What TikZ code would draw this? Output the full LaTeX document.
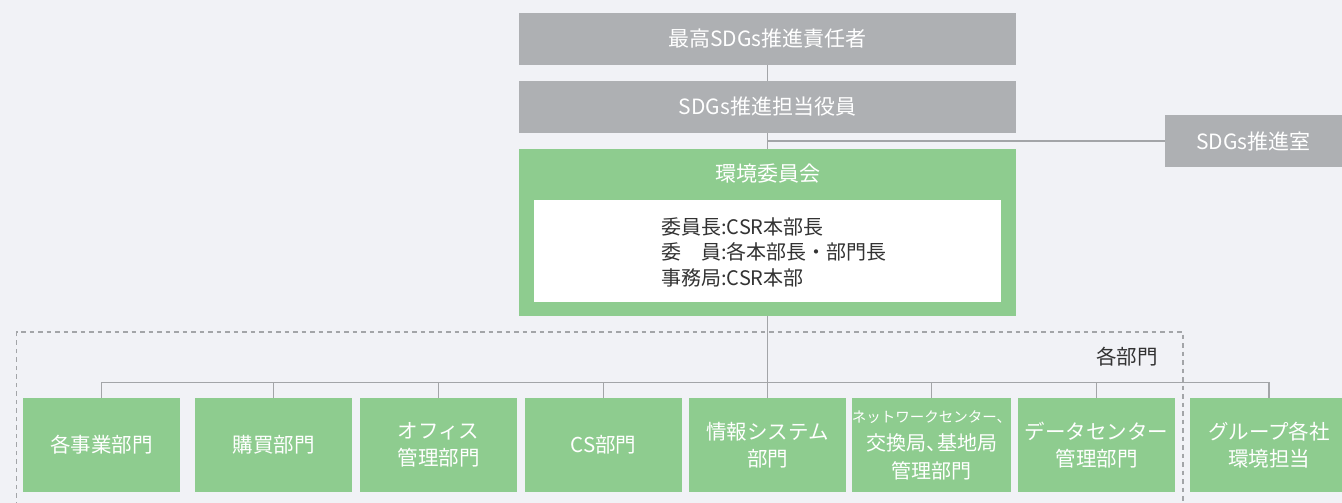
\documentclass[tikz,border=0pt]{standalone}
\usepackage{fontspec}
\setmainfont{Noto Sans CJK JP}
\definecolor{bg}{HTML}{F1F2F6}
\definecolor{boxgray}{HTML}{AEB0B3}
\definecolor{boxgreen}{HTML}{8ECC8F}
\definecolor{linegray}{HTML}{A3A5A8}
\definecolor{txtdark}{HTML}{333333}
\tikzset{
  graybox/.style={fill=boxgray, draw=none, minimum width=497pt, minimum height=52pt, inner sep=0pt, text=white, font=\fontsize{21}{26}\selectfont},
  deptbox/.style={fill=boxgreen, draw=none, minimum width=157pt, minimum height=94pt, inner sep=0pt, text=white, align=center, font=\fontsize{20.5}{27}\selectfont},
  conn/.style={draw=linegray, line width=1.3pt},
}
\begin{document}
\begin{tikzpicture}[x=1pt,y=-1pt]
\useasboundingbox (0,0) rectangle (1342,503);
\clip (0,0) rectangle (1342,503);
\fill[bg] (0,0) rectangle (1342,503);

% top chain
\node[graybox] (ceo) at (767.5,39) {最高SDGs推進責任者};
\node[graybox] (exec) at (767.5,107) {SDGs推進担当役員};
\node[graybox, minimum width=177pt] (office) at (1253.5,141) {SDGs推進室};
\node[fill=boxgreen, minimum width=497pt, minimum height=167pt, inner sep=0pt] (comm) at (767.5,232.5) {};
\node[text=white, font=\fontsize{21}{26}\selectfont] (commtitle) at (767.5,174) {環境委員会};
\node[fill=white, minimum width=467pt, minimum height=102pt, inner sep=0pt] (inner) at (767.5,251) {};
\node[anchor=west, align=left, text=txtdark, inner sep=0pt, font=\fontsize{20}{25.5}\selectfont] (members) at (661,252) {委員長:CSR本部長\\委\hspace{1em}員:各本部長・部門長\\事務局:CSR本部};

\draw[conn] (ceo.south) -- (exec.north);
\draw[conn] (exec.south) -- (comm.north);
\coordinate (branch) at (767.5,141);
\draw[conn] (branch) -- (office.west);

% dashed group
\draw[linegray, line width=1.1pt, dash pattern=on 4.5pt off 4pt] (16.5,540) -- (16.5,332) -- (1183,332) -- (1183,540);
\node[text=txtdark, font=\fontsize{20.5}{24}\selectfont] (grouplabel) at (1127,357) {各部門};

% departments
\node[deptbox] (d1) at (101.5,445) {各事業部門};
\node[deptbox] (d2) at (273.5,445) {購買部門};
\node[deptbox] (d3) at (438.5,445) {オフィス\\管理部門};
\node[deptbox] (d4) at (603.5,445) {CS部門};
\node[deptbox] (d5) at (767.5,445) {情報システム\\部門};
\node[deptbox, font=\fontsize{14.5}{28}\selectfont] (d6) at (931.5,445) {ネットワークセンター、\\\fontsize{20}{28}\selectfont 交換局、\hspace{-0.45em}基地局\\\fontsize{20}{28}\selectfont 管理部門};
\node[deptbox] (d7) at (1096.5,445) {データセンター\\管理部門};
\node[deptbox, minimum width=158pt] (d8) at (1269,445) {グループ各社\\環境担当};

\coordinate (bus) at (767.5,383);
\draw[conn] (comm.south) -- (bus);
\draw[conn] (d1.north) -- ++(0,-15) -| (d8.north);
\foreach \d in {d2,d3,d4,d5,d6,d7} {
  \draw[conn] (\d.north) -- ++(0,-15);
}
\end{tikzpicture}
\end{document}
